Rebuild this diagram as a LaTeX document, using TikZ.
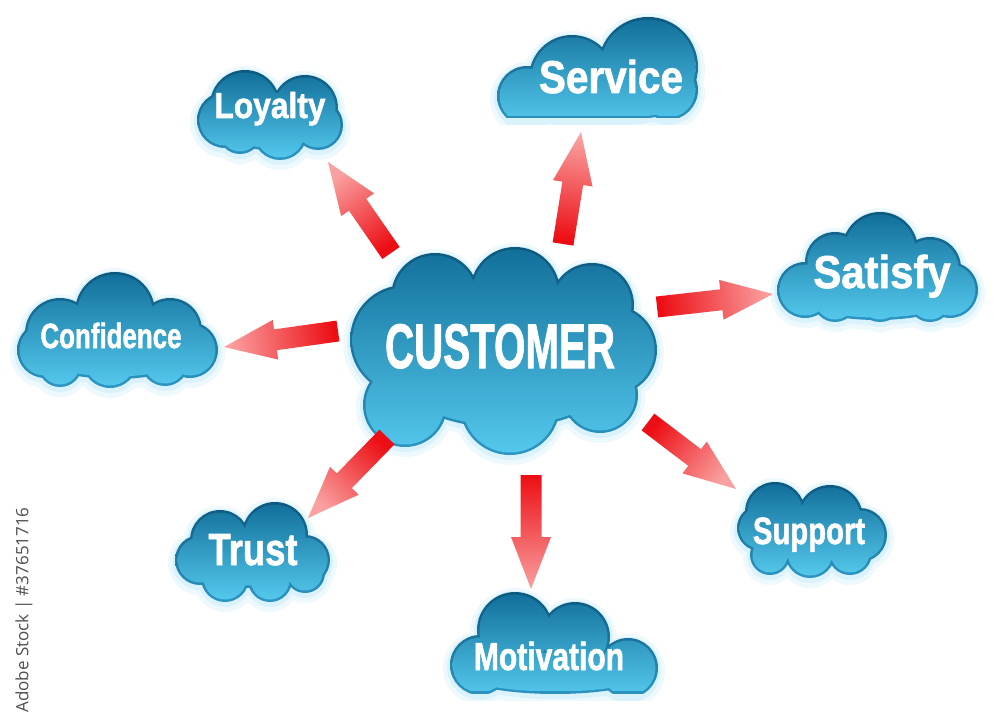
\documentclass[tikz,border=0pt]{standalone}
\usepackage{fontspec}
\usetikzlibrary{calc}
\newfontfamily\lblfont{Liberation Sans}[BoldFeatures={FakeBold=1.6}]
\newfontfamily\stockfont{Open Sans}
\definecolor{ctop}{RGB}{18,112,155}
\definecolor{cbot}{RGB}{84,200,236}
\definecolor{rimtop}{RGB}{12,88,126}
\definecolor{rimbot}{RGB}{45,150,195}
\definecolor{glowa}{RGB}{238,249,254}
\definecolor{glowb}{RGB}{218,242,251}
\definecolor{arrtail}{RGB}{236,14,20}
\definecolor{arrtip}{RGB}{250,160,160}
\definecolor{stockgray}{RGB}{80,80,80}
\tikzset{
  lbl/.style={text=white, font=\lblfont\bfseries, inner sep=0pt, anchor=base},
}
\newcommand\ctext[3]{\fontsize{#1}{#1}\selectfont\scalebox{#2}[1]{#3}}
% #1 list of x/y/rx/ry, #2 bottom clip y
\newcommand\drawcloud[2]{%
  \begin{scope}
    \clip (0,0) rectangle (1000,#2+7);
    \fill[glowa] \foreach \cx/\cy/\rx/\ry in #1 {(\cx,\cy+3) ellipse[x radius=\rx+7, y radius=\ry+7]};
    \fill[glowb] \foreach \cx/\cy/\rx/\ry in #1 {(\cx,\cy+2) ellipse[x radius=\rx+3, y radius=\ry+3]};
  \end{scope}
  \begin{scope}
    \clip (0,0) rectangle (1000,#2);
    \shade[top color=rimtop, bottom color=rimbot] \foreach \cx/\cy/\rx/\ry in #1 {(\cx,\cy) ellipse[x radius=\rx, y radius=\ry]};
  \end{scope}
  \begin{scope}
    \clip (0,0) rectangle (1000,#2-2.5);
    \shade[top color=ctop, bottom color=cbot] \foreach \cx/\cy/\rx/\ry in #1 {(\cx,\cy) ellipse[x radius=\rx-2.5, y radius=\ry-2.5]};
  \end{scope}
}
\newcommand\blockarrow[2]{%
  \pgfmathanglebetweenpoints{\pgfpointanchor{#1}{center}}{\pgfpointanchor{#2}{center}}%
  \pgfmathsetmacro\shang{\pgfmathresult+90}%
  \coordinate (hb) at ($(#2)!52pt!(#1)$);
  \shade[left color=arrtail, right color=arrtip, shading angle=\shang]
    ($(#1)!10.5pt!90:(#2)$) -- ($(hb)!10.5pt!-90:(#1)$) -- ($(hb)!20pt!-90:(#1)$) -- (#2)
    -- ($(hb)!20pt!90:(#1)$) -- ($(hb)!10.5pt!90:(#1)$) -- ($(#1)!10.5pt!-90:(#2)$) -- cycle;
}
\def\cCust{505/352/128/76, 435/297/44/44, 515/292/45/45, 592/305/42/42, 612/350/45/45, 405/340/55/55, 405/405/42/42, 510/405/50/50, 600/395/38/38}
\def\cLoy{270/120/60/30, 245/105/35/35, 305/108/33/33, 225/120/28/28, 240/132/22/22, 280/133/27/27, 318/125/25/25}
\def\cServ{595/100/95/22, 527/96/30/30, 572/78/43/43, 648/67/50/50, 668/90/30/30}
\def\cSat{877/290/90/30, 880/250/38/38, 835/262/30/30, 805/290/28/28, 930/268/31/31, 950/290/28/28, 835/300/22/22, 880/298/24/24, 930/300/22/22}
\def\cConf{115/347/88/32, 115/312/40/40, 170/330/32/32, 190/350/28/28, 60/333/35/35, 45/350/28/28, 60/365/22/22, 110/360/28/28, 165/362/24/24}
\def\cTrust{253/560/62/28, 275/535/33/33, 220/540/30/30, 200/560/25/25, 305/560/25/25, 225/578/24/24, 270/580/22/22, 305/573/20/20}
\def\cMot{555/672/98/22, 480/665/30/30, 515/630/38/38, 575/637/35/35, 628/668/30/30}
\def\cSup{812/535/62/28, 775/512/30/30, 830/518/33/33, 860/535/27/27, 760/528/23/23, 770/555/20/20, 810/553/25/25, 850/553/22/22}
\begin{document}
\begin{tikzpicture}[x=1pt,y=-1pt]
\useasboundingbox[fill=white] (0,0) rectangle (1000,727);
% clouds
\drawcloud{\cCust}{2000}
\drawcloud{\cLoy}{2000}
\drawcloud{\cServ}{118}
\drawcloud{\cSat}{2000}
\drawcloud{\cConf}{2000}
\drawcloud{\cTrust}{2000}
\drawcloud{\cMot}{693}
\drawcloud{\cSup}{2000}
% labels
\node[lbl] (cust)  at (500,368) {\ctext{63}{0.64}{CUSTOMER}};
\node[lbl] (loy)   at (270,118) {\ctext{36}{0.88}{Loyalty}};
\node[lbl] (serv)  at (611,93)  {\ctext{46}{0.88}{Service}};
\node[lbl] (sat)   at (882,288) {\ctext{46}{0.91}{Satisfy}};
\node[lbl] (conf)  at (111,348) {\ctext{35}{0.74}{Confidence}};
\node[lbl] (trust) at (253,565) {\ctext{45}{0.81}{Trust}};
\node[lbl] (mot)   at (549,670) {\ctext{39}{0.77}{Motivation}};
\node[lbl] (sup)   at (809,544) {\ctext{38}{0.77}{Support}};
% arrow end points
\coordinate (a1s) at (391,253); \coordinate (a1e) at (328,162);
\coordinate (a2s) at (563,244); \coordinate (a2e) at (581,132);
\coordinate (a3s) at (657,307); \coordinate (a3e) at (773,294);
\coordinate (a4s) at (338,331); \coordinate (a4e) at (224,347);
\coordinate (a5s) at (387,437); \coordinate (a5e) at (308,518);
\coordinate (a6s) at (531,475); \coordinate (a6e) at (531,589);
\coordinate (a7s) at (648,422); \coordinate (a7e) at (736,489);
\blockarrow{a1s}{a1e}
\blockarrow{a2s}{a2e}
\blockarrow{a3s}{a3e}
\blockarrow{a4s}{a4e}
\blockarrow{a5s}{a5e}
\blockarrow{a6s}{a6e}
\blockarrow{a7s}{a7e}
% stock text
\node[rotate=90, inner sep=0pt, text=stockgray, font=\stockfont\fontsize{17}{17}\selectfont] (stock) at (24,610) {Adobe Stock | \#37651716};
\end{tikzpicture}
\end{document}
